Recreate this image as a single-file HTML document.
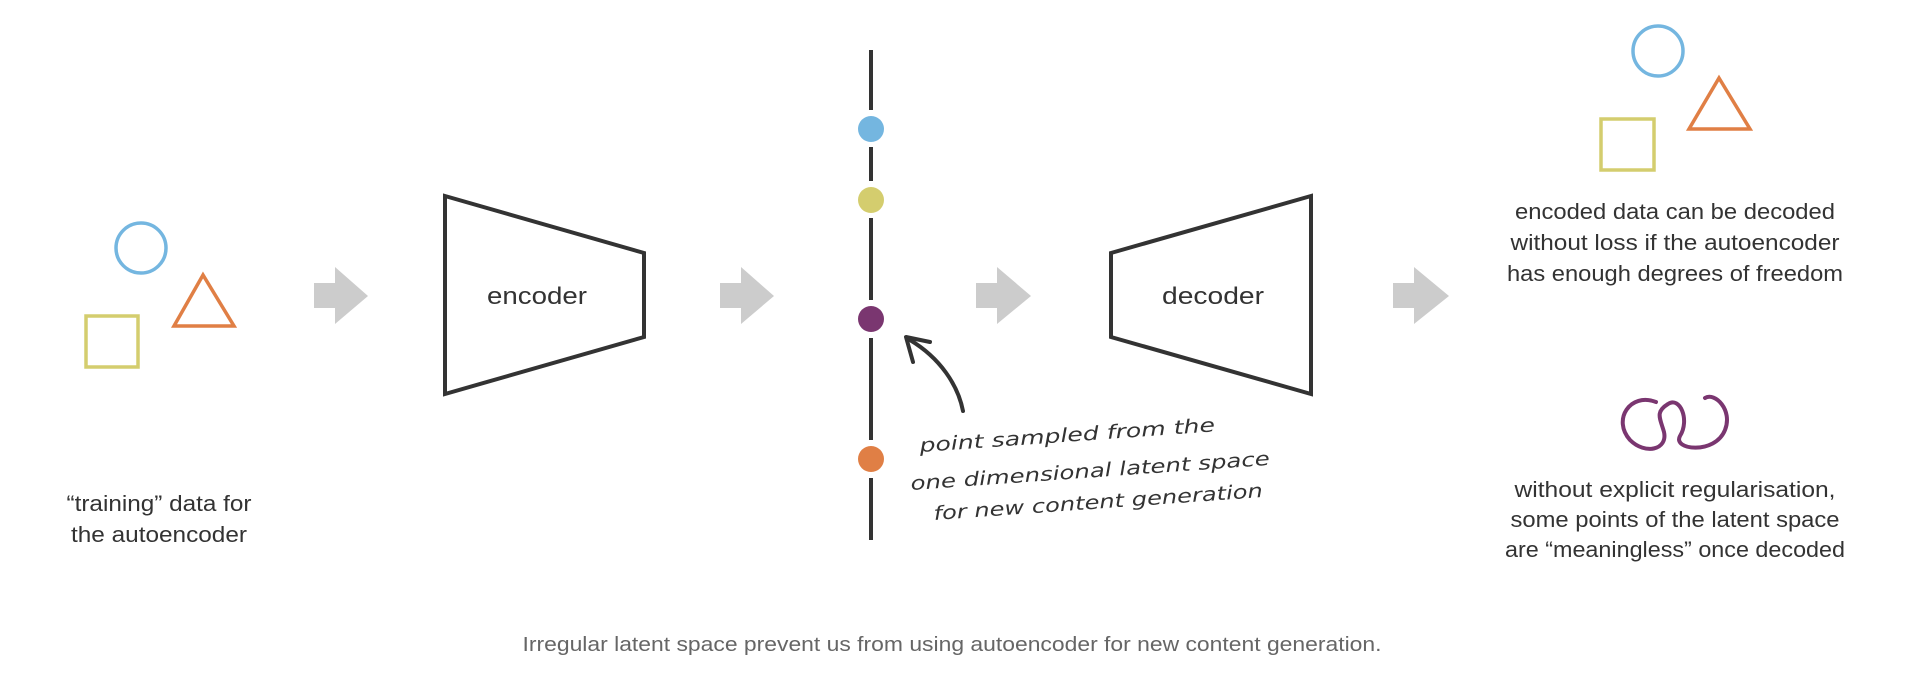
<!DOCTYPE html>
<html><head><meta charset="utf-8"><style>
html,body{margin:0;padding:0;background:#fff;}
svg{display:block;}
text{font-family:"Liberation Sans",sans-serif;fill:#333;}
.h{font-family:"DejaVu Sans","Liberation Sans",sans-serif;font-style:italic;fill:#333;font-size:19px;}
</style></head><body>
<svg width="1930" height="696" viewBox="0 0 1930 696" xmlns="http://www.w3.org/2000/svg">
<!-- left shapes -->
<circle cx="141" cy="248" r="25" fill="none" stroke="#74b6e0" stroke-width="3.5"/>
<polygon points="203,275 174,326 234,326" fill="none" stroke="#e07f45" stroke-width="3.5"/>
<rect x="86" y="316" width="52" height="51" fill="none" stroke="#d4cd6e" stroke-width="3.5"/>
<text x="159" y="511" font-size="22" text-anchor="middle" textLength="185" lengthAdjust="spacingAndGlyphs">“training” data for</text>
<text x="159" y="542" font-size="22" text-anchor="middle" textLength="176" lengthAdjust="spacingAndGlyphs">the autoencoder</text>
<!-- arrows -->
<g fill="#cccccc">
<polygon points="314,283 335,283 335,267 368,296 335,324 335,308 314,308"/>
<polygon points="720,283 741,283 741,267 774,296 741,324 741,308 720,308"/>
<polygon points="976,283 997,283 997,267 1031,296 997,324 997,308 976,308"/>
<polygon points="1393,283 1414,283 1414,267 1449,296 1414,324 1414,308 1393,308"/>
</g>
<!-- encoder -->
<polygon points="445,196 644,253 644,337 445,394" fill="none" stroke="#333" stroke-width="4"/>
<text x="537" y="304" font-size="24" text-anchor="middle" textLength="100" lengthAdjust="spacingAndGlyphs">encoder</text>
<!-- latent line -->
<g stroke="#333" stroke-width="4">
<line x1="871" y1="50" x2="871" y2="110"/>
<line x1="871" y1="147" x2="871" y2="181"/>
<line x1="871" y1="218" x2="871" y2="300"/>
<line x1="871" y1="338" x2="871" y2="440"/>
<line x1="871" y1="478" x2="871" y2="540"/>
</g>
<ellipse cx="871" cy="129" rx="13" ry="13" fill="#74b6e0"/>
<ellipse cx="871" cy="200" rx="13" ry="13" fill="#d4cd6e"/>
<ellipse cx="871" cy="319" rx="13" ry="13" fill="#7a3670"/>
<ellipse cx="871" cy="459" rx="13" ry="13" fill="#e07f45"/>
<!-- curved arrow -->
<path d="M963,411 C958,385 940,358 910,340" fill="none" stroke="#333" stroke-width="4" stroke-linecap="round"/>
<polyline points="913,362 906,337 930,342" fill="none" stroke="#333" stroke-width="4" stroke-linecap="round" stroke-linejoin="round"/>
<!-- handwritten -->
<text class="h" x="920" y="452" transform="rotate(-4 920 452)" textLength="296" lengthAdjust="spacingAndGlyphs">point sampled from the</text>
<text class="h" x="911" y="490" transform="rotate(-4 911 490)" textLength="360" lengthAdjust="spacingAndGlyphs">one dimensional latent space</text>
<text class="h" x="934" y="520" transform="rotate(-4 934 520)" textLength="330" lengthAdjust="spacingAndGlyphs">for new content generation</text>
<!-- decoder -->
<polygon points="1111,253 1311,196 1311,394 1111,337" fill="none" stroke="#333" stroke-width="4"/>
<text x="1213" y="304" font-size="24" text-anchor="middle" textLength="102" lengthAdjust="spacingAndGlyphs">decoder</text>
<!-- right shapes -->
<circle cx="1658" cy="51" r="25" fill="none" stroke="#74b6e0" stroke-width="3.5"/>
<polygon points="1719,78 1689,129 1750,129" fill="none" stroke="#e07f45" stroke-width="3.5"/>
<rect x="1601" y="119" width="53" height="51" fill="none" stroke="#d4cd6e" stroke-width="3.5"/>
<text x="1675" y="219" font-size="22" text-anchor="middle" textLength="320" lengthAdjust="spacingAndGlyphs">encoded data can be decoded</text>
<text x="1675" y="250" font-size="22" text-anchor="middle" textLength="329" lengthAdjust="spacingAndGlyphs">without loss if the autoencoder</text>
<text x="1675" y="281" font-size="22" text-anchor="middle" textLength="336" lengthAdjust="spacingAndGlyphs">has enough degrees of freedom</text>
<!-- squiggle -->
<path d="M1656,402 C1630,392 1612,420 1630,440 C1645,455 1668,450 1664,432 C1660,418 1655,412 1668,404 C1680,396 1690,420 1680,436 C1672,450 1715,455 1725,430 C1733,410 1715,392 1705,398"
 fill="none" stroke="#7a3670" stroke-width="4" stroke-linecap="round"/>
<text x="1675" y="497" font-size="22" text-anchor="middle" textLength="321" lengthAdjust="spacingAndGlyphs">without explicit regularisation,</text>
<text x="1675" y="527" font-size="22" text-anchor="middle" textLength="329" lengthAdjust="spacingAndGlyphs">some points of the latent space</text>
<text x="1675" y="557" font-size="22" text-anchor="middle" textLength="340" lengthAdjust="spacingAndGlyphs">are “meaningless” once decoded</text>
<!-- caption -->
<text x="952" y="651" font-size="20" text-anchor="middle" fill="#666" style="fill:#666" textLength="859" lengthAdjust="spacingAndGlyphs">Irregular latent space prevent us from using autoencoder for new content generation.</text>
</svg>
</body></html>
